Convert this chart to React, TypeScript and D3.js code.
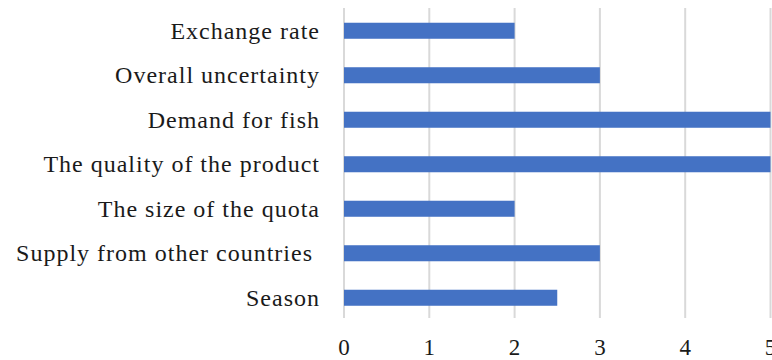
import React from "react";
import * as d3 from "d3";

// Factors and their scores
const categories = [
  "Exchange rate",
  "Overall uncertainty",
  "Demand for fish",
  "The quality of the product",
  "The size of the quota",
  "Supply from other countries ",
  "Season",
];
const scores = [2, 3, 5, 5, 2, 3, 2.5];
const tickValues = [0, 1, 2, 3, 4, 5];

const W = 772;
const H = 360;
const FONT = "'Liberation Serif', 'Times New Roman', serif";

export default function App() {
  const x = d3.scaleLinear().domain([0, 5]).range([344, 770.5]);
  const y = d3
    .scaleBand<string>()
    .domain(categories)
    .range([8.5, 320])
    .paddingInner(0.64)
    .paddingOuter(0.32);

  const gridTop = 8;
  const gridBottom = 318;

  return (
    <svg
      width={W}
      height={H}
      style={{ position: "absolute", left: 0, top: 0, background: "#fff" }}
    >
      {/* vertical gridlines */}
      {tickValues.map((t) => (
        <line
          key={`g${t}`}
          x1={x(t)}
          x2={x(t)}
          y1={gridTop}
          y2={gridBottom}
          stroke="#d9d9d9"
          strokeWidth={2}
        />
      ))}

      {/* bars */}
      {categories.map((c, i) => (
        <rect
          key={c}
          x={x(0)}
          y={y(c)}
          width={x(scores[i]) - x(0)}
          height={y.bandwidth()}
          fill="#4472c4"
        />
      ))}

      {/* category labels */}
      {categories.map((c) => (
        <text
          key={`l${c}`}
          x={320}
          y={(y(c) ?? 0) + y.bandwidth() / 2 + 8}
          textAnchor="end"
          fontFamily={FONT}
          fontSize={24}
          letterSpacing={1}
          fill="#1a1a1a"
          style={{ whiteSpace: "pre" }}
        >
          {c}
        </text>
      ))}

      {/* x tick labels */}
      {tickValues.map((t) => (
        <text
          key={`t${t}`}
          x={x(t)}
          y={355}
          textAnchor="middle"
          fontFamily={FONT}
          fontSize={23}
          fill="#1a1a1a"
        >
          {t}
        </text>
      ))}
    </svg>
  );
}
